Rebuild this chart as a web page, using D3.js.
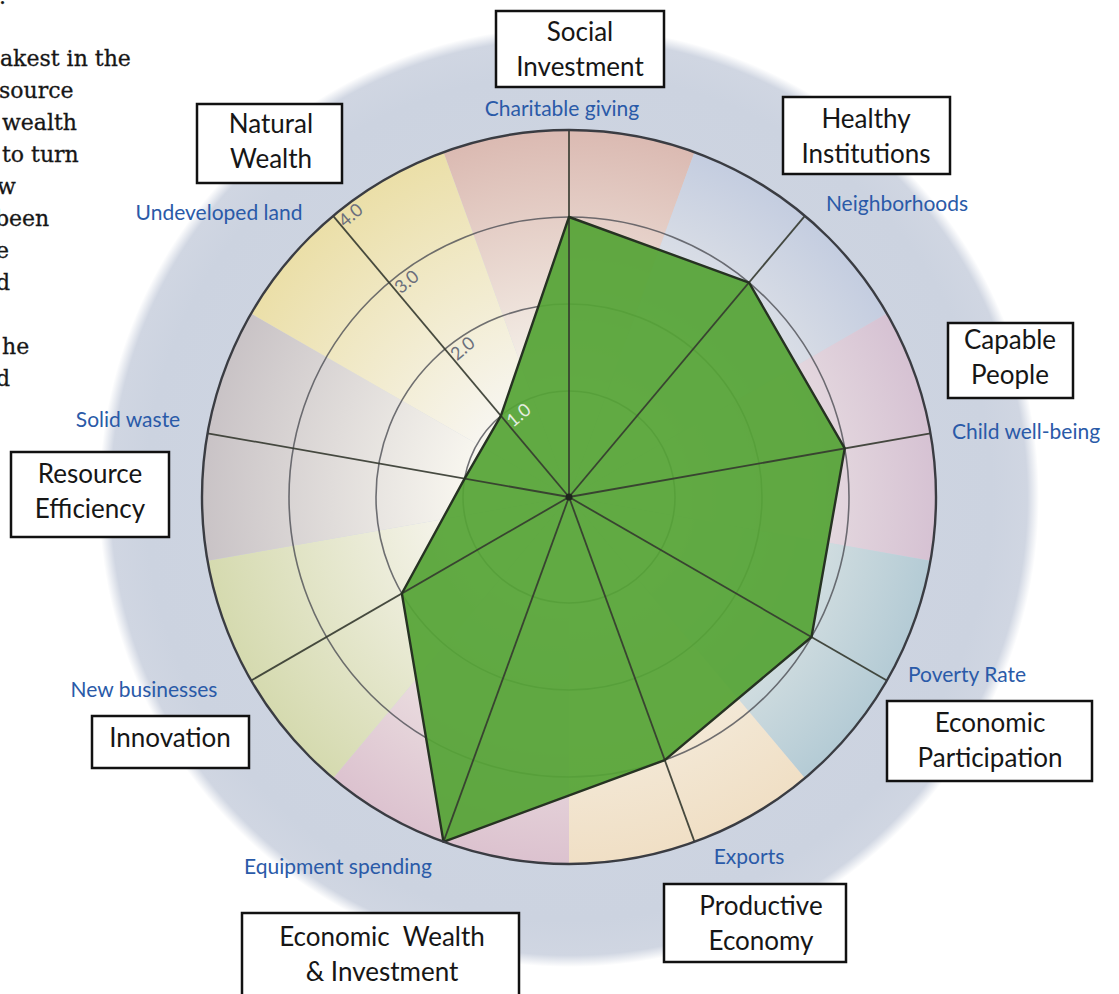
<!DOCTYPE html>
<html>
<head>
<meta charset="utf-8">
<script src="https://cdn.jsdelivr.net/npm/d3@7"></script>
<style>
  html, body { margin: 0; padding: 0; background: #fff; }
  svg { display: block; }
</style>
</head>
<body>
<div id="chart"></div>
<script>
// indicators, clockwise from the top
const indicators = ["Charitable giving", "Neighborhoods", "Child well-being", "Poverty Rate", "Exports",
    "Equipment spending", "New businesses", "Solid waste", "Undeveloped land"];
const groups = ["Social Investment", "Healthy Institutions", "Capable People", "Economic Participation",
    "Productive Economy", "Economic Wealth & Investment", "Innovation", "Resource Efficiency", "Natural Wealth"];
const groupLines = [["Social", "Investment"], ["Healthy", "Institutions"], ["Capable", "People"],
    ["Economic", "Participation"], ["Productive", "Economy"], ["Economic  Wealth", "& Investment"],
    ["Innovation"], ["Resource", "Efficiency"], ["Natural", "Wealth"]];
const values = [3.0, 3.0, 3.0, 3.0, 3.0, 4.0, 2.0, 1.0, 1.0];
const ticks = [1, 2, 3, 4];
const tickLabels = ["1.0", "2.0", "3.0", "4.0"];

// page text cut off at the left edge
const sideText = [".", "akest in the", "source", "wealth", "to turn", "w", "been", "e", "d", "", "he", "d"];

const width = 1119, height = 994;
const cx = 569, cy = 497;

const sectorColors = ["#dbbab2", "#c4cde0", "#d6c2d3", "#b4cbd5", "#f0dfc5", "#dcc2cf", "#d5daaf", "#c9c3c6", "#ebdfa8"];

// label + box placement (layout only)
const indicatorPos = [[562, 116], [897, 211], [1026, 439], [967, 682], [749, 864], [338, 874], [144, 697], [128, 427], [219, 220]];
const sideX = [-1, 0, -1, 2, 2, -3, -5, -4, -4, 0, 2, -4];
const boxPos = [
    {x: 496, y: 11, w: 168, h: 76, tx: 580, ty: 41},
    {x: 783, y: 97, w: 167, h: 77, tx: 866, ty: 128},
    {x: 948, y: 323, w: 125, h: 75, tx: 1010, ty: 349},
    {x: 887, y: 701, w: 205, h: 80, tx: 990, ty: 732},
    {x: 664, y: 884, w: 182, h: 78, tx: 761, ty: 915},
    {x: 242, y: 913, w: 277, h: 100, tx: 382, ty: 946},
    {x: 92, y: 716, w: 157, h: 52, tx: 170, ty: 747},
    {x: 11, y: 452, w: 158, h: 85, tx: 90, ty: 483},
    {x: 197, y: 104, w: 145, h: 79, tx: 271, ty: 133}
];

const svg = d3.select('#chart').append('svg')
    .attr('width', width)
    .attr('height', height);

const defs = svg.append('defs');

let r = d3.scaleLinear().domain([0, 4]).range([19, 367]);
let angle = d3.scaleLinear().domain([0, indicators.length]).range([0, 2 * Math.PI]);
let half = Math.PI / indicators.length;

// point on a spoke, in screen coords relative to centre
let pt = (i, v) => [Math.sin(angle(i)) * r(v), -Math.cos(angle(i)) * r(v)];

// side text
svg.append('g')
    .selectAll('text')
    .data(sideText)
    .join('text')
    .attr('x', (d, i) => sideX[i])
    .attr('y', (d, i) => i === 0 ? 4 : 66 + (i - 1) * 32)
    .attr('font-family', 'DejaVu Serif')
    .attr('font-size', 22)
    .attr('fill', '#161616')
    .attr('stroke', '#161616')
    .attr('stroke-width', 0.3)
    .text(d => d);

// big soft backing disc
let discGrad = defs.append('radialGradient').attr('id', 'disc');
[[0, '#d2d8e4'], [0.9, '#ccd3e0'], [0.975, '#d0d6e2'], [1, '#ffffff']].forEach(s => {
    discGrad.append('stop').attr('offset', s[0]).attr('stop-color', s[1]);
});

const g = svg.append('g').attr('transform', `translate(${cx},${cy})`);

g.append('circle')
    .attr('r', 470)
    .attr('fill', 'url(#disc)');

// coloured sectors
sectorColors.forEach((c, i) => {
    let grad = defs.append('radialGradient')
        .attr('id', `sec${i}`)
        .attr('gradientUnits', 'userSpaceOnUse')
        .attr('cx', 0).attr('cy', 0).attr('r', r(4));
    grad.append('stop').attr('offset', 0).attr('stop-color', '#fbfaf4');
    grad.append('stop').attr('offset', 0.3).attr('stop-color', '#f7f5ee');
    grad.append('stop').attr('offset', 1).attr('stop-color', c);
});

let arc = d3.arc().innerRadius(0).outerRadius(r(4));
g.append('g')
    .selectAll('path')
    .data(groups)
    .join('path')
    .attr('d', (d, i) => arc({startAngle: angle(i) - half, endAngle: angle(i) + half}))
    .attr('fill', (d, i) => `url(#sec${i})`);

// rings
g.append('g')
    .selectAll('circle')
    .data(ticks.slice(0, -1))
    .join('circle')
    .attr('r', d => r(d))
    .attr('fill', 'none')
    .attr('stroke', '#4d4f55')
    .attr('stroke-opacity', 0.8)
    .attr('stroke-width', 1.6);

// data polygon
let line = d3.lineRadial()
    .angle((d, i) => angle(i))
    .radius(d => r(d))
    .curve(d3.curveLinearClosed);

g.append('path')
    .datum(values)
    .attr('d', line)
    .attr('fill', '#55a436')
    .attr('fill-opacity', 0.93);

// spokes
g.append('g')
    .selectAll('line')
    .data(indicators)
    .join('line')
    .attr('x1', 0).attr('y1', 0)
    .attr('x2', (d, i) => pt(i, 4)[0])
    .attr('y2', (d, i) => pt(i, 4)[1])
    .attr('stroke', '#34392f')
    .attr('stroke-opacity', 0.9)
    .attr('stroke-width', 1.8);

g.append('path')
    .datum(values)
    .attr('d', line)
    .attr('fill', 'none')
    .attr('stroke', '#263222')
    .attr('stroke-width', 2.4)
    .attr('stroke-linejoin', 'round');

// outer rim
g.append('circle')
    .attr('r', r(4))
    .attr('fill', 'none')
    .attr('stroke', '#3a3c42')
    .attr('stroke-width', 2.4);

g.append('circle').attr('r', 3.5).attr('fill', '#1e261c');

// tick labels along the "Undeveloped land" spoke, perpendicular to it
let tickSpoke = indicators.length - 1;
let rot = angle(tickSpoke) * 180 / Math.PI - 360;
g.append('g')
    .selectAll('text')
    .data(ticks)
    .join('text')
    .attr('transform', d => `translate(${pt(tickSpoke, d)}) rotate(${rot})`)
    .attr('x', 14)
    .attr('y', 17)
    .attr('text-anchor', 'middle')
    .attr('font-family', 'Lato')
    .attr('font-size', 18)
    .attr('fill', (d, i) => values[tickSpoke] >= d ? '#e6eee2' : '#6b6f7c')
    .text((d, i) => tickLabels[i]);

// indicator labels
svg.append('g')
    .selectAll('text')
    .data(indicators)
    .join('text')
    .attr('x', (d, i) => indicatorPos[i][0])
    .attr('y', (d, i) => indicatorPos[i][1])
    .attr('text-anchor', 'middle')
    .attr('font-family', 'Lato')
    .attr('font-size', 21)
    .attr('fill', '#2a5aa8')
    .text(d => d);

// group boxes
let boxes = svg.append('g')
    .selectAll('g')
    .data(groups)
    .join('g');

boxes.append('rect')
    .attr('x', (d, i) => boxPos[i].x)
    .attr('y', (d, i) => boxPos[i].y)
    .attr('width', (d, i) => boxPos[i].w)
    .attr('height', (d, i) => boxPos[i].h)
    .attr('fill', '#fff')
    .attr('stroke', '#111')
    .attr('stroke-width', 2.5);

boxes.each(function (d, i) {
    d3.select(this).selectAll('text')
        .data(groupLines[i])
        .join('text')
        .attr('x', boxPos[i].tx)
        .attr('y', (t, j) => boxPos[i].ty + j * 34.5)
        .attr('text-anchor', 'middle')
        .attr('font-family', 'Lato')
        .attr('font-size', 26)
        .attr('fill', '#161616')
        .style('white-space', 'pre')
        .text(t => t);
});
</script>
</body>
</html>
